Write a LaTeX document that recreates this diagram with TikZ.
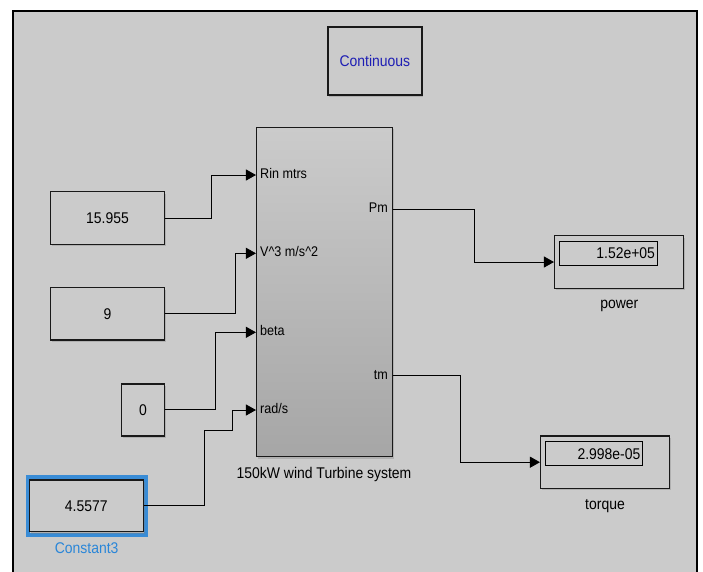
\documentclass[tikz,border=0pt]{standalone}
\usepackage{fontspec}
\setmainfont[FakeStretch=0.9]{Liberation Sans}
\usetikzlibrary{arrows.meta,shadows}
\definecolor{bg}{RGB}{203,203,203}
\definecolor{contblue}{RGB}{30,30,180}
\definecolor{selblue}{RGB}{42,134,216}
\definecolor{bordk}{RGB}{25,25,25}
\tikzset{
  blk/.style={draw=bordk, line width=1.5pt, fill=bg, inner sep=0pt,
    drop shadow={shadow xshift=1.5pt, shadow yshift=-2pt, opacity=0.35}},
  sig/.style={draw=black, line width=0.9pt},
  sigarr/.style={sig, -{Triangle[length=10pt,width=11pt]}},
  big/.style={font=\fontsize{15.5}{18}\selectfont},
  portlbl/.style={font=\fontsize{14}{16}\selectfont, inner sep=0pt, text height=0.72em, text depth=0pt},
  lbl/.style={font=\fontsize{15.5}{18}\selectfont, inner sep=0pt},
}
\begin{document}
\begin{tikzpicture}[x=1pt,y=-1pt]
\useasboundingbox (0,0) rectangle (703,571);
\fill[white] (0,0) rectangle (703,571);
\fill[bg] (12.5,11) rectangle (696.7,575);
\draw[line width=2pt] (12.5,575) -- (12.5,11) -- (696.7,11) -- (696.7,575);

% Continuous block
\node[blk, big, text=contblue, minimum width=94pt, minimum height=68pt] (cont) at (374.9,61) {Continuous};

% Constants
\node[blk, big, minimum width=113.6pt, minimum height=52.6pt] (c1) at (107.5,218) {15.955};
\node[blk, big, minimum width=113.6pt, minimum height=52.3pt] (c2) at (107.5,313.8) {9};
\node[blk, big, minimum width=42.6pt, minimum height=52pt] (c3) at (143,410) {0};
\draw[selblue, line width=4pt, opacity=0.9] (27.5,476.5) rectangle (145.5,534.5);
\node[blk, big, minimum width=114pt, minimum height=51.7pt] (c4) at (86.3,505.8) {4.5577};
\node[lbl, text=selblue, anchor=base] (c4lbl) at (86.7,553) {Constant3};

% Wind turbine subsystem
\node[draw=bordk, line width=1.5pt, top color=bg, bottom color={rgb,255:red,166;green,166;blue,166},
  minimum width=135.6pt, minimum height=329.4pt, inner sep=0pt,
  drop shadow={shadow xshift=1.5pt, shadow yshift=-2pt, opacity=0.35}] (wt) at (324.5,292) {};
\node[lbl, anchor=base] (wtlbl) at (324,478) {150kW wind Turbine system};

\coordinate (in1) at (wt.west |- {(0,175)});
\coordinate (in2) at (wt.west |- {(0,253.3)});
\coordinate (in3) at (wt.west |- {(0,332.3)});
\coordinate (in4) at (wt.west |- {(0,410)});
\coordinate (out1) at (wt.east |- {(0,209.3)});
\coordinate (out2) at (wt.east |- {(0,375.7)});

\node[portlbl, anchor=west] (p1) at ([xshift=4pt]in1) {Rin mtrs};
\node[portlbl, anchor=west] (p2) at ([xshift=4pt]in2) {V\string^3 m/s\string^2};
\node[portlbl, anchor=west] (p3) at ([xshift=4pt]in3) {beta};
\node[portlbl, anchor=west] (p4) at ([xshift=4pt]in4) {rad/s};
\node[portlbl, anchor=east] (q1) at ([xshift=-5pt]out1) {Pm};
\node[portlbl, anchor=east] (q2) at ([xshift=-5pt]out2) {tm};

% Displays
\node[blk, minimum width=128.6pt, minimum height=52.6pt] (pw) at (619,262) {};
\node[draw=black, line width=0.8pt, inner sep=0pt, minimum width=98.3pt, minimum height=24.7pt] (pwin) at (608.15,253.35) {};
\node[lbl, anchor=east] (pwval) at ([xshift=-2.5pt]pwin.east) {1.52e+05};
\node[lbl, anchor=base] (pwlbl) at (619.3,308.5) {power};

\node[blk, minimum width=128.6pt, minimum height=52.3pt] (tq) at (605,462.2) {};
\node[draw=black, line width=0.8pt, inner sep=0pt, minimum width=97.7pt, minimum height=24pt] (tqin) at (593.85,453.7) {};
\node[lbl, anchor=east] (tqval) at ([xshift=-2.5pt]tqin.east) {2.998e-05};
\node[lbl, anchor=base] (tqlbl) at (605,509.5) {torque};

% Signals
\draw[sigarr] (c1.east) -- (211.7,218) |- (in1);
\draw[sigarr] (c2.east |- {(0,313)}) -- (235.7,313) |- (in2);
\draw[sigarr] (c3.east |- {(0,409)}) -- (215.7,409) |- (in3);
\draw[sigarr] (c4.east) -| (204.3,430) -| (232.7,410) -- (in4);
\draw[sigarr] (out1) -- (474.3,209.3) |- (pw.west);
\draw[sigarr] (out2) -- (460.7,375.7) |- (tq.west);
\end{tikzpicture}
\end{document}
